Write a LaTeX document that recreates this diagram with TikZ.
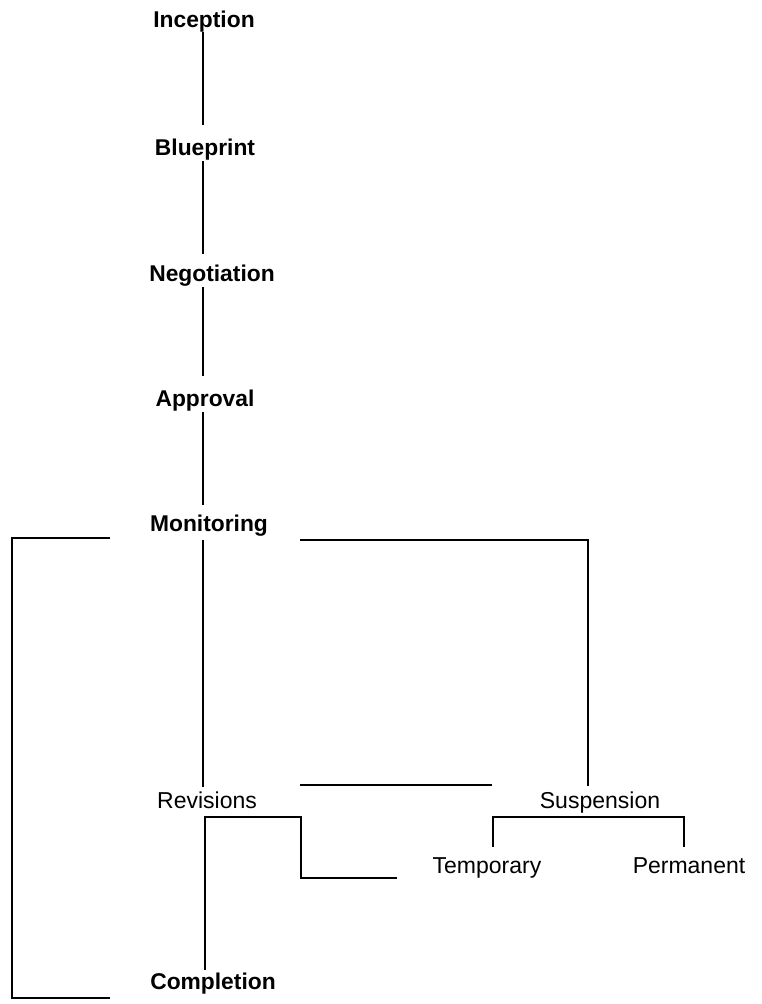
\documentclass[tikz,border=0pt]{standalone}
\usepackage{fontspec}
\setmainfont{Liberation Sans}
\begin{document}
\begin{tikzpicture}[x=1pt,y=-1pt,
  lbl/.style={inner sep=0pt,anchor=base},
  bold/.style={lbl,font=\fontsize{22.8}{26}\selectfont\bfseries},
  reg/.style={lbl,font=\fontsize{23}{26}\selectfont},
  conn/.style={line width=1.1pt,black}]
\useasboundingbox (0,0) rectangle (761,1004);
\fill[white] (0,0) rectangle (761,1004);
% nodes (positions are baselines)
\node[bold] (inc) at (204,27) {Inception};
\node[bold] (blu) at (205,155) {Blueprint};
\node[bold] (neg) at (212,281) {Negotiation};
\node[bold] (app) at (205,406) {Approval};
\node[bold] (mon) at (209,531) {Monitoring};
\node[reg] (rev) at (207,808) {Revisions};
\node[reg] (sus) at (600,808) {Suspension};
\node[reg] (tem) at (487,873) {Temporary};
\node[reg] (per) at (689,873) {Permanent};
\node[bold] (com) at (213,989) {Completion};
% spine coordinates
\coordinate (s1a) at (203,32);  \coordinate (s1b) at (203,125);
\coordinate (s2a) at (203,161); \coordinate (s2b) at (203,254);
\coordinate (s3a) at (203,287); \coordinate (s3b) at (203,376);
\coordinate (s4a) at (203,412); \coordinate (s4b) at (203,505);
\coordinate (s5a) at (203,540); \coordinate (s5b) at (203,787);
\draw[conn] (s1a) -- (s1b);
\draw[conn] (s2a) -- (s2b);
\draw[conn] (s3a) -- (s3b);
\draw[conn] (s4a) -- (s4b);
\draw[conn] (s5a) -- (s5b);
% left bracket
\coordinate (lb1) at (110,538);
\coordinate (lb2) at (110,998);
\draw[conn] (lb1) -- ++(-98,0) |- (lb2);
% right bracket
\coordinate (rb1) at (300,540);
\coordinate (rb2) at (588,786);
\draw[conn] (rb1) -| (rb2);
% middle line
\coordinate (ml1) at (300,785);
\coordinate (ml2) at (492,785);
\draw[conn] (ml1) -- (ml2);
% revisions bracket
\coordinate (cb) at (205,970);
\coordinate (rk) at (301,817);
\coordinate (re) at (397,878);
\draw[conn] (cb) |- (rk) |- (re);
% suspension bracket
\coordinate (sb1) at (493,847);
\coordinate (sb2) at (684,847);
\draw[conn] (sb1) -- (493,817) -- (684,817) -- (sb2);
\end{tikzpicture}
\end{document}
